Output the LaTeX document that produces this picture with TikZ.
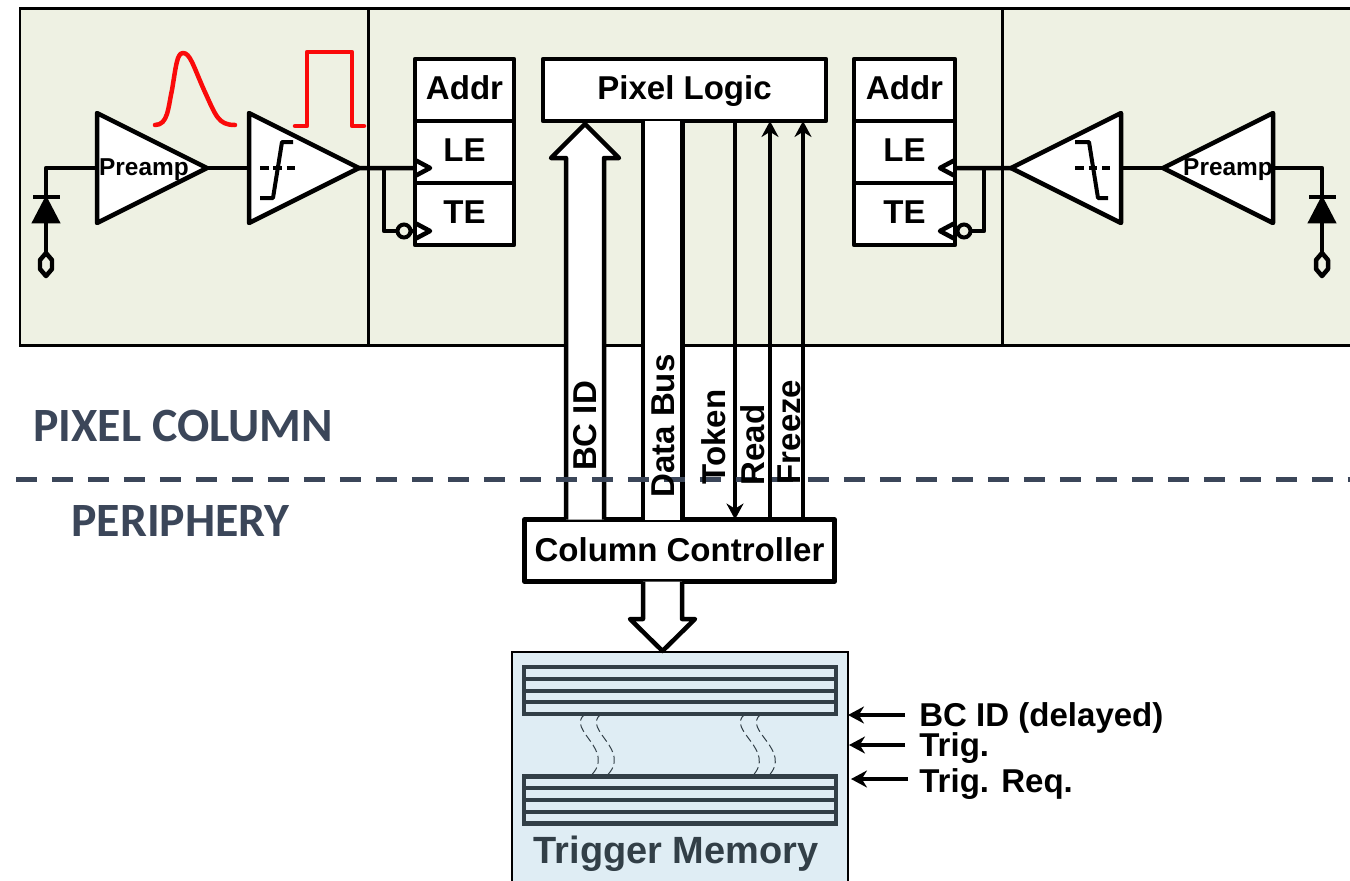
\documentclass[tikz,border=0pt]{standalone}
\usepackage{fontspec}
\setmainfont{Liberation Sans}
\newfontfamily\captionfont{Carlito}
\usetikzlibrary{arrows.meta,shapes.geometric}
\definecolor{pixelpanel}{HTML}{EEF1E3}
\definecolor{memfill}{HTML}{DFEDF4}
\definecolor{memdark}{HTML}{323F47}
\definecolor{slateline}{HTML}{3B4659}
\definecolor{pulsered}{RGB}{250,10,10}
\begin{document}
\begin{tikzpicture}[
    x=0.02cm, y=-0.02cm,
    >={Stealth[length=0.32cm, width=0.34cm]},
    wire/.style={line width=0.09cm, line join=round},
    bigtext/.style={font=\fontsize{18.8}{20}\selectfont\bfseries},
    field/.style={draw, fill=white, wire, inner sep=0pt, outer sep=0pt, text depth=0.08cm, bigtext},
    amp/.style={draw, fill=white, wire, isosceles triangle, isosceles triangle stretches,
        minimum width=2.2cm, minimum height=2.2cm, inner sep=0pt, outer sep=0pt, anchor=lower side},
    amptext/.style={inner sep=0pt, font=\fontsize{13.9}{15}\selectfont\bfseries},
    diode/.style={draw, fill=black, line width=0.05cm, isosceles triangle, isosceles triangle stretches,
        shape border rotate=90, minimum width=0.5cm, minimum height=0.48cm, inner sep=0pt, outer sep=0pt, anchor=apex},
    bubble/.style={draw, fill=pixelpanel, circle, line width=0.08cm, minimum size=0.26cm, inner sep=0pt, outer sep=0pt},
    pulse/.style={pulsered, line width=0.09cm, line join=round, line cap=round},
    vlabel/.style={rotate=90, inner sep=0pt, bigtext},
    section/.style={inner sep=0pt, anchor=west, text=slateline, font=\fontsize{27.2}{29}\captionfont\bfseries},
    row/.style={draw=memdark, fill=memfill, line width=0.09cm, minimum width=6.24cm, minimum height=0.94cm,
        inner sep=0pt, outer sep=0pt},
    stripe/.style={draw=memdark, line width=0.09cm},
    wavy/.style={draw=memdark, line width=0.02cm, dash pattern=on 0.16cm off 0.08cm},
    extlabel/.style={inner sep=0pt, anchor=west, bigtext}
]
\clip (0,0) rectangle (1350,880);

\draw[fill=pixelpanel, line width=0.06cm] (20,8) rectangle (368,345);
\draw[fill=pixelpanel, line width=0.06cm] (368,8) rectangle (1002,345);
\draw[fill=pixelpanel, line width=0.06cm] (1002,8) rectangle (1356,345);

\node[amp] (pre1) at (97,168) {};
\node[amp] (cmp1) at (249,168) {};
\node[amptext] (pre1t) at (144,170) {Preamp};
\node[amp, shape border rotate=180] (pre2) at (1273,168) {};
\node[amp, shape border rotate=180] (cmp2) at (1121,168) {};
\node[amptext] (pre2t) at (1228,170) {Preamp};

\node[diode] (dio1) at (46,198) {};
\node[diode] (dio2) at (1322,198) {};
\coordinate (pad1) at (46,253);
\coordinate (pad2) at (1322,253);

\draw[wire] (pre1.lower side) -| (dio1.apex);
\draw[wire] (33,197) -- (60,197);
\draw[wire] (dio1.lower side) -- (pad1);
\draw[wire] (pad1) -- ++(6,7) -- ++(0,9) -- ++(-6,7) -- ++(-6,-7) -- ++(0,-9) -- cycle;
\draw[wire] (pre2.lower side) -| (dio2.apex);
\draw[wire] (1309,197) -- (1336,197);
\draw[wire] (dio2.lower side) -- (pad2);
\draw[wire] (pad2) -- ++(6,7) -- ++(0,9) -- ++(-6,7) -- ++(-6,-7) -- ++(0,-9) -- cycle;

\draw[wire] (pre1.apex) -- (cmp1.lower side);
\draw[wire] (pre2.apex) -- (cmp2.lower side);

\draw[wire, line width=0.08cm] (260,198) -- (273,198) -- (282,142) -- (293,142);
\draw[wire, line width=0.08cm, dash pattern=on 0.17cm off 0.1cm] (260,168) -- (296,168);
\draw[wire, line width=0.08cm] (1075,142) -- (1089,142) -- (1098,198) -- (1108,198);
\draw[wire, line width=0.08cm, dash pattern=on 0.17cm off 0.1cm] (1075,168) -- (1110,168);

\draw[pulse] (155,125) .. controls (168,125) and (168,108) .. (172,90) .. controls (176,66) and (177,53) .. (183,53) .. controls (190,53) and (193,65) .. (204,90) .. controls (216,116) and (218,125) .. (235,125);
\draw[pulse] (295,126) -- (307,126) -- (307,52) -- (352,52) -- (352,126) -- (364,126);

\node[field, minimum width=1.98cm, minimum height=1.24cm] (addr1) at (464.5,90) {Addr};
\node[field, minimum width=1.98cm, minimum height=1.24cm] (le1) at (464.5,152) {LE};
\node[field, minimum width=1.98cm, minimum height=1.24cm] (te1) at (464.5,214) {TE};
\node[field, minimum width=2.02cm, minimum height=1.24cm] (addr2) at (904.5,90) {Addr};
\node[field, minimum width=2.02cm, minimum height=1.24cm] (le2) at (904.5,152) {LE};
\node[field, minimum width=2.02cm, minimum height=1.24cm] (te2) at (904.5,214) {TE};

\coordinate (clkle1) at ([yshift=-0.32cm]le1.west);
\coordinate (clkte1) at ([yshift=-0.34cm]te1.west);
\coordinate (clkle2) at ([yshift=-0.32cm]le2.east);
\coordinate (clkte2) at ([yshift=-0.34cm]te2.east);
\coordinate (tap1) at (384,168);
\coordinate (tap2) at (984,168);
\node[bubble] (bub1) at (404,231) {};
\node[bubble] (bub2) at (964,231) {};

\draw[wire] (cmp1.apex) -- (clkle1);
\draw[wire] (tap1) |- (bub1.west);
\draw[wire] (bub1.east) -- (clkte1);
\draw[wire] (clkle1) ++(0,-8) -- ++(15,8) -- ++(-15,8);
\draw[wire] (clkte1) ++(0,-8) -- ++(15,8) -- ++(-15,8);
\draw[wire] (cmp2.apex) -- (clkle2);
\draw[wire] (tap2) |- (bub2.east);
\draw[wire] (bub2.west) -- (clkte2);
\draw[wire] (clkle2) ++(0,-8) -- ++(-15,8) -- ++(15,8);
\draw[wire] (clkte2) ++(0,-8) -- ++(-15,8) -- ++(15,8);

\node[field, minimum width=5.66cm, minimum height=1.24cm] (logic) at (684.5,90) {Pixel Logic};
\node[field, text depth=0.04cm, minimum width=6.2cm, minimum height=1.24cm] (ctrl) at (679.5,550.5) {Column Controller};

\draw[wire, fill=white] (566,0 |- ctrl.north) -- (566,158) -- (551,158) -- (585,124) -- (619,158) -- (604,158) -- (604,0 |- ctrl.north);
\draw[line width=0.09cm, double=white, double distance=0.7cm] (662.5,0 |- logic.south) -- (662.5,0 |- ctrl.north);
\draw[wire, ->] (735,0 |- logic.south) -- (735,0 |- ctrl.north);
\draw[wire, ->] (770,0 |- ctrl.north) -- (770,0 |- logic.south);
\draw[wire, ->] (803,0 |- ctrl.north) -- (803,0 |- logic.south);

\draw[slateline, line width=0.1cm, dash pattern=on 0.42cm off 0.3cm] (16,479) -- (1350,479);

\node[vlabel] (lbc) at (585,426) {BC ID};
\node[vlabel] (ldata) at (663,426) {Data Bus};
\node[vlabel] (ltoken) at (714,437) {Token};
\node[vlabel] (lread) at (753,445) {Read};
\node[vlabel] (lfreeze) at (789,432) {Freeze};

\node[section] (secpix) at (33,426) {PIXEL COLUMN};
\node[section] (secper) at (71,521) {PERIPHERY};

\node[draw, fill=memfill, line width=0.04cm, minimum width=6.72cm, minimum height=4.8cm, inner sep=0pt, outer sep=0pt] (mem) at (680,772) {};
\draw[wire, fill=white] (ctrl.south -| 643,0) -- (643,619) -- (630,619) -- (662.5,651) -- (695,619) -- (682,619) -- (ctrl.south -| 682,0);

\node[row] (row1) at (680,690.5) {};
\node[row] (row2) at (680,800) {};
\draw[stripe] (row1.west |- 0,679) -- (row1.east |- 0,679);
\draw[stripe] (row1.west |- 0,691) -- (row1.east |- 0,691);
\draw[stripe] (row1.west |- 0,702) -- (row1.east |- 0,702);
\draw[stripe] (row2.west |- 0,788) -- (row2.east |- 0,788);
\draw[stripe] (row2.west |- 0,800) -- (row2.east |- 0,800);
\draw[stripe] (row2.west |- 0,812) -- (row2.east |- 0,812);

\draw[wavy] (585,0 |- row1.south) .. controls (565,730) and (618,750) .. (590,0 |- row2.north);
\draw[wavy] (601,0 |- row1.south) .. controls (581,730) and (634,750) .. (606,0 |- row2.north);
\draw[wavy] (745,0 |- row1.south) .. controls (725,730) and (778,750) .. (752,0 |- row2.north);
\draw[wavy] (761,0 |- row1.south) .. controls (741,730) and (794,750) .. (768,0 |- row2.north);

\node[inner sep=0pt, text=memdark, font=\fontsize{21.6}{24}\selectfont\bfseries] (memt) at (676,854) {Trigger Memory};

\node[extlabel] (ebc) at (919,718) {BC ID (delayed)};
\node[extlabel] (etrig) at (919,748) {Trig.};
\node[extlabel] (ereq) at (919,784) {Trig. Req.};
\coordinate (tipbc) at (848,715);
\coordinate (tiptrig) at (849,745);
\coordinate (tipreq) at (851,779);
\draw[wire, ->] (905,0 |- tipbc) -- (tipbc);
\draw[wire, ->] (905,0 |- tiptrig) -- (tiptrig);
\draw[wire, ->] (908,0 |- tipreq) -- (tipreq);
\end{tikzpicture}
\end{document}
